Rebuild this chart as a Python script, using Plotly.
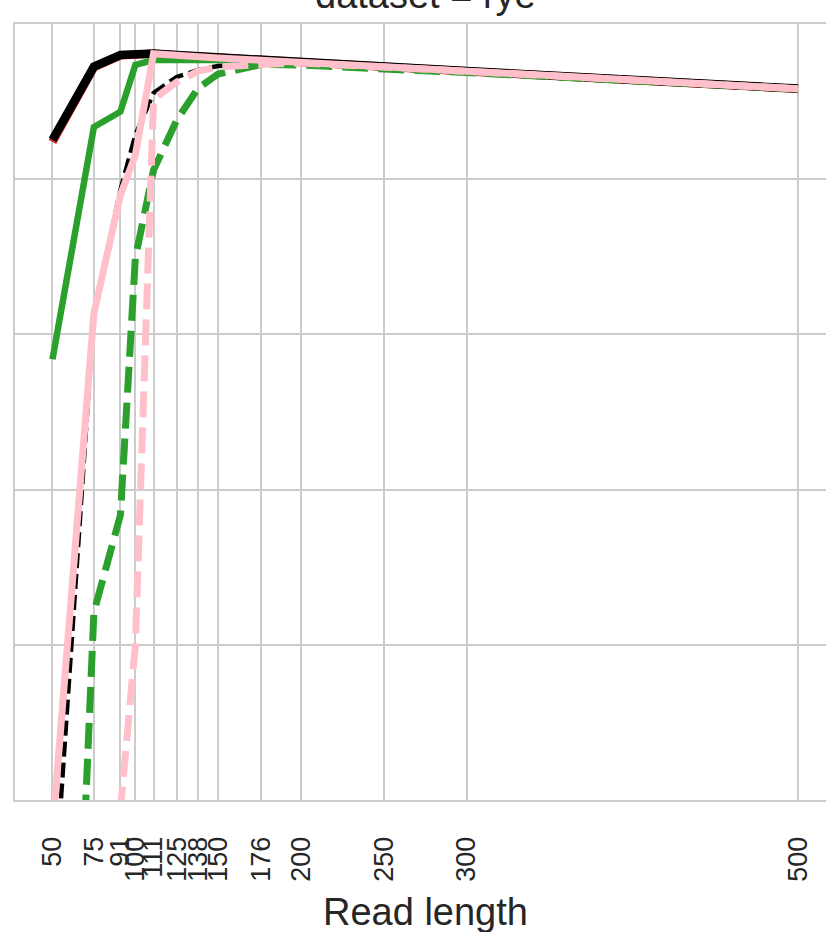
import plotly.graph_objects as go

read_length = [50, 75, 91, 100, 111, 125, 138, 150, 176, 200, 250, 300, 500]
tick_labels = ["50", "75", "91", "100", "111", "125", "138", "150", "176", "200", "250", "300", "500"]

red_solid = [0.9240, 0.9722, 0.9798, 0.9805, 0.9808, 0.9798, 0.9790, 0.9782, 0.9767, 0.9753, 0.9723, 0.9695, 0.9582]
black_solid = [0.9253, 0.9725, 0.9800, 0.9807, 0.9810, 0.9800, 0.9792, 0.9784, 0.9769, 0.9755, 0.9725, 0.9697, 0.9584]
green_solid = [0.7840, 0.9336, 0.9435, 0.9736, 0.9768, 0.9771, 0.9769, 0.9768, 0.9765, 0.9752, 0.9722, 0.9694, 0.9582]
black_dashed = [0.4200, 0.8138, 0.8930, 0.9285, 0.9555, 0.9659, 0.9704, 0.9729, 0.9745, 0.9752, 0.9723, 0.9695, 0.9582]
green_dashed = [0.0000, 0.6211, 0.6836, 0.8492, 0.9059, 0.9381, 0.9588, 0.9678, 0.9739, 0.9736, 0.9710, 0.9687, 0.9581]
pink_dashed = [0.1000, 0.3160, 0.4936, 0.5999, 0.9517, 0.9626, 0.9697, 0.9723, 0.9739, 0.9749, 0.9723, 0.9695, 0.9582]
pink_solid = [0.4796, 0.8136, 0.8898, 0.9155, 0.9808, 0.9795, 0.9788, 0.9781, 0.9767, 0.9753, 0.9724, 0.9696, 0.9583]

title_text = "dataset = rye"
x_title = "Read length"

series = [
    ("red solid", red_solid, "#d62728", 8.5, "solid"),
    ("black solid", black_solid, "#000000", 8.5, "solid"),
    ("green solid", green_solid, "#2ca02c", 6.5, "solid"),
    ("black dashed", black_dashed, "#000000", 4.5, "15px,6px"),
    ("green dashed", green_dashed, "#2ca02c", 7, "26px,10px"),
    ("pink dashed", pink_dashed, "#ffc0cb", 7, "26px,10px"),
    ("pink solid", pink_solid, "#ffc0cb", 7, "solid"),
]

fig = go.Figure()
for name, vals, color, width, dash in series:
    fig.add_trace(go.Scatter(
        x=read_length, y=vals, mode="lines", name=name,
        line=dict(color=color, width=width, dash=dash),
        showlegend=False, hoverinfo="skip",
    ))

grid = "#cccccc"
fig.update_layout(
    width=826, height=932,
    margin=dict(l=15, r=0, t=24, b=132, autoexpand=False),
    paper_bgcolor="white", plot_bgcolor="white",
    font=dict(family="Liberation Sans, Arial", color="#262626"),
    xaxis=dict(
        range=[27.37, 516.9], automargin=False,
        tickmode="array", tickvals=read_length, ticktext=tick_labels,
        tickangle=-90, tickfont=dict(size=27, color="#262626"),
        showgrid=True, gridcolor=grid, gridwidth=2,
        showline=True, linecolor=grid, linewidth=2, mirror=True,
        zeroline=False, ticks="", ticklabelstandoff=24,
    ),
    yaxis=dict(
        range=[0.5, 1.0], automargin=False,
        tickmode="array", tickvals=[0.5, 0.6, 0.7, 0.8, 0.9, 1.0],
        showticklabels=False,
        showgrid=True, gridcolor=grid, gridwidth=2,
        showline=True, linecolor=grid, linewidth=2, mirror=False,
        zeroline=False, ticks="",
    ),
    annotations=[
        dict(text=title_text, xref="paper", yref="paper", x=0.5, y=1,
             xanchor="center", yanchor="middle", yshift=29, xshift=5, showarrow=False,
             font=dict(size=38, color="#262626")),
        dict(text=x_title, xref="paper", yref="paper", x=0.5, y=0,
             xanchor="center", yanchor="middle", yshift=-112, xshift=5, showarrow=False,
             font=dict(size=38, color="#262626")),
    ],
)

fig.write_html("out.html", config={"displayModeBar": False},
               post_script="document.body.style.margin='0';document.body.style.overflow='hidden';")
